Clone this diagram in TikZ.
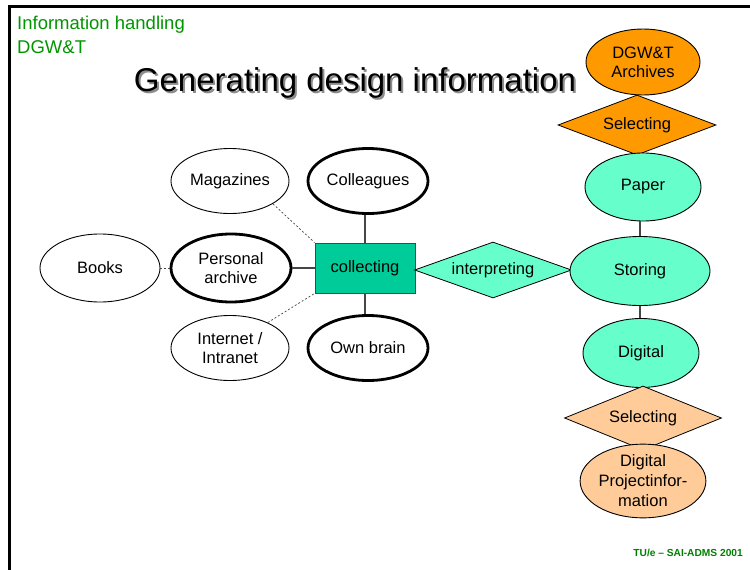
\documentclass[tikz,border=0pt]{standalone}
\usepackage{fontspec}
\setmainfont{Liberation Sans}
\usetikzlibrary{shapes.geometric}
\definecolor{hgreen}{RGB}{0,150,0}
\definecolor{teal1}{RGB}{0,204,153}
\definecolor{aqua1}{RGB}{102,255,204}
\definecolor{orange1}{RGB}{255,153,0}
\definecolor{peach1}{RGB}{255,204,153}
\definecolor{linegray}{RGB}{70,70,70}
\tikzset{
  ell/.style={ellipse, draw=black, line width=0.9pt, minimum width=118pt, minimum height=65pt, inner sep=0pt, align=center, font=\fontsize{16.5}{19}\selectfont},
  thickell/.style={ell, line width=2.8pt},
  dia/.style={diamond, draw=black, line width=0.8pt, aspect=2.6, inner sep=0pt, align=center, font=\fontsize{16.5}{19}\selectfont},
  solidcon/.style={draw=linegray, line width=1.4pt},
  dashcon/.style={draw=linegray, line width=0.7pt, dash pattern=on 2pt off 2pt},
}
\newcommand{\shadowtext}[1]{\makebox[0pt][l]{\kern2pt\raisebox{-2pt}{\textcolor{black!45}{#1}}}#1}
\begin{document}
\begin{tikzpicture}[x=1pt,y=-1pt]
\useasboundingbox (0,0) rectangle (750,570);
% frame
\draw[line width=3pt] (9,570) -- (9,6) -- (750,6);
% header texts
\node[anchor=west, text=hgreen, font=\fontsize{18.5}{20}\selectfont, inner sep=0pt] (h1) at (17,25) {Information handling};
\node[anchor=west, text=hgreen, font=\fontsize{18.5}{20}\selectfont, inner sep=0pt] (h2) at (17,47) {DGW\&T};
\node[font=\fontsize{33}{36}\selectfont, inner sep=0pt] (title) at (355,84) {\shadowtext{Generating design information}};
\node[anchor=east, text=hgreen!85!black, font=\bfseries\fontsize{10.2}{12}\selectfont, inner sep=0pt] (foot) at (743,553) {TU/e – SAI-ADMS 2001};
% left cluster
\node[ell] (mag) at (230,181) {Magazines};
\node[thickell, minimum width=120pt] (col) at (368,181) {Colleagues};
\node[ell, minimum width=120pt, minimum height=68pt] (books) at (100,268) {Books};
\node[thickell, minimum width=120pt, minimum height=68pt] (pers) at (231,268) {Personal\\archive};
\node[ell] (inet) at (230,348) {Internet /\\Intranet};
\node[thickell, minimum width=120pt] (brain) at (368,348) {Own brain};
\node[draw=linegray, line width=0.9pt, fill=teal1, minimum width=100pt, minimum height=50pt, inner sep=0pt, font=\fontsize{16.5}{19}\selectfont] (coll) at (365,268) {collecting};
\node[dia, fill=aqua1, minimum width=157pt, minimum height=56pt] (interp) at (493,270) {interpreting};
% right column
\node[ell, fill=orange1, minimum width=114pt, minimum height=66pt] (arch) at (643,62) {DGW\&T\\Archives};
\node[dia, fill=orange1, minimum width=158pt, minimum height=60pt] (sel1) at (637,125) {Selecting};
\node[ell, fill=aqua1, minimum width=116pt, minimum height=68pt] (paper) at (643,187) {Paper};
\node[ell, fill=aqua1, minimum width=140pt, minimum height=69pt] (stor) at (640,271) {Storing};
\node[ell, fill=aqua1, minimum width=116pt, minimum height=69pt] (dig) at (641,353) {Digital};
\node[dia, fill=peach1, minimum width=157pt, minimum height=64pt] (sel2) at (643,418) {Selecting};
\node[ell, fill=peach1, minimum width=115pt, minimum height=67pt, font=\fontsize{16.5}{20}\selectfont] (dpi) at (643,481) {Digital\\Projectinfor-\\mation};
% connectors
\draw[dashcon] (mag.-28) -- (coll.north west);
\draw[dashcon] (inet.34) -- (coll.south west);
\draw[dashcon] (books.east) -- (pers.west);
\draw[solidcon] (pers.east) -- (coll.west);
\draw[solidcon] (col.south -| coll.north) -- (coll.north);
\draw[solidcon] (coll.south) -- (brain.north -| coll.south);
\draw[solidcon] (paper.south -| stor.north) -- (stor.north);
\draw[solidcon] (stor.south) -- (dig.north -| stor.south);
\end{tikzpicture}
\end{document}
